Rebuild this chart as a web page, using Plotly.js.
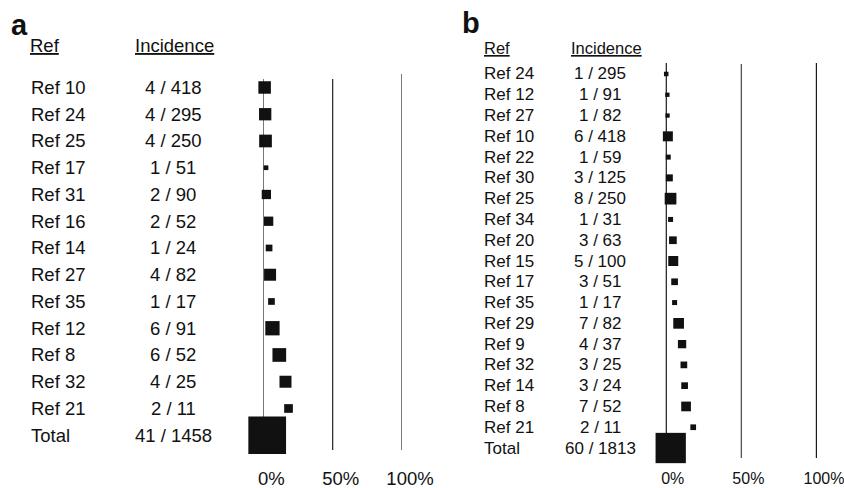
<!DOCTYPE html>
<html>
<head>
<meta charset="utf-8">
<script src="https://cdn.plot.ly/plotly-3.0.1.min.js"></script>
<style>html,body{margin:0;padding:0;background:#fff;}#chart{width:844px;height:488px;}</style>
</head>
<body>
<div id="chart"></div>
<script>
// ---------- data ----------
const refsA   = ['Ref 10','Ref 24','Ref 25','Ref 17','Ref 31','Ref 16','Ref 14','Ref 27','Ref 35','Ref 12','Ref 8','Ref 32','Ref 21','Total'];
const eventsA = [4, 4, 4, 1, 2, 2, 1, 4, 1, 6, 6, 4, 2, 41];
const totalsA = [418, 295, 250, 51, 90, 52, 24, 82, 17, 91, 52, 25, 11, 1458];
const weightA = [12.5, 12.3, 12.7, 4.7, 9.3, 9.3, 6.7, 12, 6.7, 14.3, 13.7, 12, 8.7, 37.7];

const refsB   = ['Ref 24','Ref 12','Ref 27','Ref 10','Ref 22','Ref 30','Ref 25','Ref 34','Ref 20','Ref 15','Ref 17','Ref 35','Ref 29','Ref 9','Ref 32','Ref 14','Ref 8','Ref 21','Total'];
const eventsB = [1, 1, 1, 6, 1, 3, 8, 1, 3, 5, 3, 1, 7, 4, 3, 3, 7, 2, 60];
const totalsB = [295, 91, 82, 418, 59, 125, 250, 31, 63, 100, 51, 17, 82, 37, 25, 24, 52, 11, 1813];
const weightB = [4.5, 4.3, 4.3, 10, 5, 7, 11.7, 5, 7.7, 10, 6.7, 5, 10.7, 8.3, 6.7, 6.7, 9.7, 5.7, 30.3];

const tickVals = [0, 0.5, 1];
const tickText = ['0%', '50%', '100%'];
const headers  = ['Ref', 'Incidence'];
const panelLabels = ['a', 'b'];

// ---------- helpers ----------
const W = 844, H = 488;
const px = v => v / W;
const py = v => 1 - v / H;
const FONT = 'Liberation Sans, Arial, Helvetica, sans-serif';
const INK = '#111111';

const propA = eventsA.map((e, i) => e / totalsA[i]);
const propB = eventsB.map((e, i) => e / totalsB[i]);
const idxA = refsA.map((_, i) => i);
const idxB = refsB.map((_, i) => i);

const traces = [
  {
    type: 'scatter', mode: 'markers', x: propA, y: idxA, xaxis: 'x', yaxis: 'y',
    marker: {symbol: 'square', size: weightA, color: INK, opacity: 1, line: {width: 0}},
    cliponaxis: false, hoverinfo: 'skip', showlegend: false
  },
  {
    type: 'scatter', mode: 'markers', x: propB, y: idxB, xaxis: 'x2', yaxis: 'y2',
    marker: {symbol: 'square', size: weightB, color: INK, opacity: 1, line: {width: 0}},
    cliponaxis: false, hoverinfo: 'skip', showlegend: false
  }
];

const annotations = [];
function addText(text, x, y, yref, size, anchor, extra) {
  annotations.push(Object.assign({
    text: text, x: x, y: y, xref: 'paper', yref: yref,
    xanchor: anchor, yanchor: 'middle', showarrow: false,
    font: {family: FONT, size: size, color: INK}
  }, extra || {}));
}

// panel a
addText('<b>' + panelLabels[0] + '</b>', px(19), py(25), 'paper', 29, 'center');
addText('<u>' + headers[0] + '</u>', px(28), py(46), 'paper', 18.5, 'left');
addText('<u>' + headers[1] + '</u>', px(174.5), py(46), 'paper', 18.5, 'center');
refsA.forEach((r, i) => {
  addText(r, px(29), i, 'y', 18.5, 'left');
  addText(eventsA[i] + ' / ' + totalsA[i], px(173), i, 'y', 18.5, 'center');
});

// panel b
addText('<b>' + panelLabels[1] + '</b>', px(471), py(23), 'paper', 29, 'center');
addText('<u>' + headers[0] + '</u>', px(482), py(48), 'paper', 16.5, 'left');
addText('<u>' + headers[1] + '</u>', px(606), py(48), 'paper', 16.5, 'center');
refsB.forEach((r, i) => {
  addText(r, px(482), i, 'y2', 17, 'left');
  addText(eventsB[i] + ' / ' + totalsB[i], px(600), i, 'y2', 17, 'center');
});

// reference lines at tick values
const shapes = [];
const lineA = {top: [79, 79, 74], bottom: 450, width: [1.3, 1.3, 1.3], color: ['#333', '#333', '#333']};
const lineB = {top: [63, 64, 63], bottom: 458, width: [2.4, 1.3, 2.4], color: ['#1a1a1a', '#555', '#1a1a1a']};
tickVals.forEach((v, k) => {
  shapes.push({type: 'line', xref: 'x', yref: 'paper', x0: v, x1: v, y0: py(lineA.bottom), y1: py(lineA.top[k]),
    line: {color: lineA.color[k], width: lineA.width[k]}, layer: 'below'});
  shapes.push({type: 'line', xref: 'x2', yref: 'paper', x0: v, x1: v, y0: py(lineB.bottom), y1: py(lineB.top[k]),
    line: {color: lineB.color[k], width: lineB.width[k]}, layer: 'below'});
});

const baseX = {
  range: [0, 1], showgrid: false, zeroline: false, showline: false, ticks: '',
  tickvals: tickVals, ticktext: tickText, fixedrange: true, ticklabeloverflow: 'allow'
};
const baseY = {showgrid: false, zeroline: false, showline: false, showticklabels: false, ticks: '', fixedrange: true};

const layout = {
  width: W, height: H,
  margin: {l: 0, r: 0, t: 0, b: 0, pad: 0},
  paper_bgcolor: '#ffffff', plot_bgcolor: 'rgba(0,0,0,0)',
  font: {family: FONT, color: INK},
  showlegend: false,
  xaxis: Object.assign({}, baseX, {domain: [px(263.3), px(402)], anchor: 'y',
    ticklabelshift: 8, ticklabelstandoff: 17, tickfont: {family: FONT, size: 18.5, color: INK}}),
  yaxis: Object.assign({}, baseY, {domain: [py(448.6), py(74.1)], range: [refsA.length - 0.5, -0.5], anchor: 'x'}),
  xaxis2: Object.assign({}, baseX, {domain: [px(665.7), px(817)], anchor: 'y2',
    ticklabelshift: 7, ticklabelstandoff: 9, tickfont: {family: FONT, size: 16, color: INK}}),
  yaxis2: Object.assign({}, baseY, {domain: [py(458.4), py(63.6)], range: [refsB.length - 0.5, -0.5], anchor: 'x2'}),
  annotations: annotations,
  shapes: shapes
};

Plotly.newPlot('chart', traces, layout, {staticPlot: true, displayModeBar: false});
</script>
</body>
</html>
